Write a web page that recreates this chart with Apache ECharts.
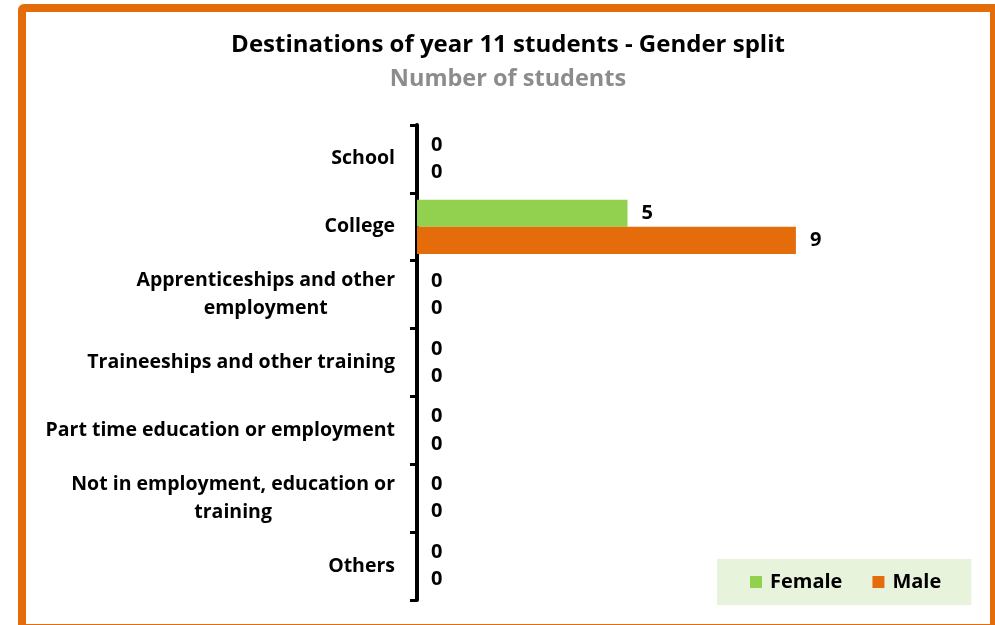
<!DOCTYPE html>
<html>
<head>
<meta charset="utf-8">
<script src="https://cdn.jsdelivr.net/npm/echarts@6/dist/echarts.min.js"></script>
<style>
  html, body { margin: 0; padding: 0; background: #fff; overflow: hidden; }
  #chart { position: absolute; left: 0; top: 0; width: 995px; height: 625px; }
  /* orange frame round the chart, running past the right and bottom edges */
  #frame {
    position: absolute; left: 18px; top: 4px; width: 980px; height: 628px;
    box-sizing: border-box; border: 8px solid #E46C0A; border-top-left-radius: 6px;
    pointer-events: none;
  }
</style>
</head>
<body>
<div id="chart"></div>
<div id="frame"></div>
<script>
const categories = [
  "School",
  "College",
  "Apprenticeships and other\nemployment",
  "Traineeships and other training",
  "Part time education or employment",
  "Not in employment, education or\ntraining",
  "Others"
];
const femaleValues = [0, 5, 0, 0, 0, 0, 0];
const maleValues = [0, 9, 0, 0, 0, 0, 0];

const FONT = "'Open Sans', sans-serif";

const chart = echarts.init(document.getElementById("chart"));

const barLabel = {
  show: true,
  position: "right",
  distance: 14,
  color: "#000",
  fontFamily: FONT,
  fontWeight: "bold",
  fontSize: 20
};

chart.setOption({
  animation: false,
  title: [
    {
      text: "Destinations of year 11 students - Gender split",
      left: 503,
      top: 28,
      textAlign: "center",
      textStyle: { fontFamily: FONT, fontWeight: "bold", fontSize: 24, color: "#000" }
    },
    {
      text: "Number of students",
      left: 503,
      top: 62,
      textAlign: "center",
      textStyle: { fontFamily: FONT, fontWeight: "bold", fontSize: 23.5, color: "#8C8C8C" }
    }
  ],
  legend: {
    data: ["Female", "Male"],
    left: 717,
    top: 559,
    padding: [13, 30, 13, 33],
    itemGap: 30,
    itemWidth: 12,
    itemHeight: 12,
    icon: "rect",
    backgroundColor: "#E8F3DB",
    textStyle: {
      fontFamily: FONT, fontWeight: "bold", fontSize: 20, color: "#000",
      padding: [0, 0, 0, 3]
    }
  },
  grid: { left: 417, right: 157, top: 125, bottom: 25 },
  xAxis: {
    type: "value",
    min: 0,
    max: 10,
    show: false
  },
  yAxis: {
    type: "category",
    data: categories,
    inverse: true,
    axisLine: { show: true, lineStyle: { color: "#000", width: 4 } },
    axisTick: { show: true, length: 7, lineStyle: { color: "#000", width: 3 } },
    axisLabel: {
      margin: 22,
      color: "#000",
      fontFamily: FONT,
      fontWeight: "bold",
      fontSize: 19.5,
      lineHeight: 28,
      align: "right",
      // centre each line inside the right-aligned label block
      formatter: (v) => v.split("\n").map((s) => "{c|" + s + "}").join("\n"),
      rich: {
        c: {
          align: "center",
          color: "#000",
          fontFamily: FONT,
          fontWeight: "bold",
          fontSize: 19.5,
          lineHeight: 28
        }
      }
    }
  },
  series: [
    {
      name: "Female",
      type: "bar",
      data: femaleValues,
      itemStyle: { color: "#92D050" },
      barGap: "0%",
      barCategoryGap: "20%",
      label: barLabel
    },
    {
      name: "Male",
      type: "bar",
      data: maleValues,
      itemStyle: { color: "#E46C0A" },
      barGap: "0%",
      barCategoryGap: "20%",
      label: barLabel
    }
  ]
});
</script>
</body>
</html>
